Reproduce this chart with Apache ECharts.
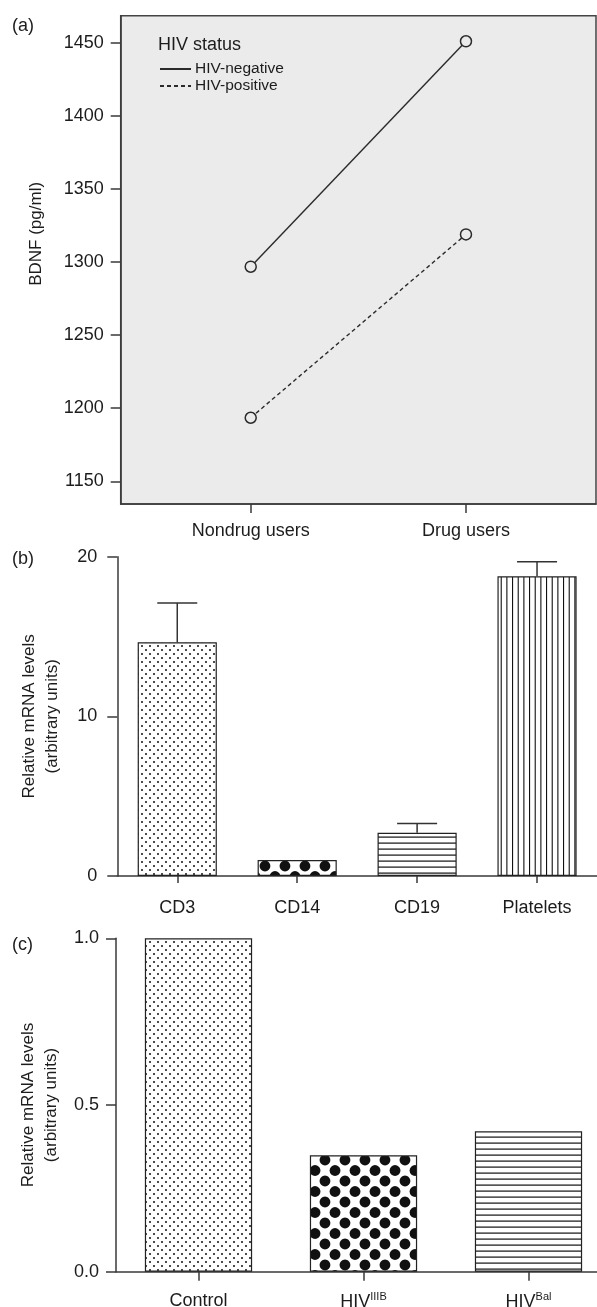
<!DOCTYPE html>
<html>
<head>
<meta charset="utf-8">
<script src="https://cdn.jsdelivr.net/npm/echarts@6/dist/echarts.min.js"></script>
<style>
html, body { margin: 0; padding: 0; background: #fff; }
#main { width: 597px; height: 1307px; }
</style>
</head>
<body>
<div id="main"></div>
<script>
// (a) BDNF by drug use and HIV status
var groupsA = ['Nondrug users', 'Drug users'];
var hivNegative = [1296.8, 1451];
var hivPositive = [1193.5, 1318.9];
var ticksA = [1150, 1200, 1250, 1300, 1350, 1400, 1450];

// (b) mRNA by cell type (mean + upper error)
var cellTypes = ['CD3', 'CD14', 'CD19', 'Platelets'];
var cellMeans = [14.64, 1.0, 2.71, 18.77];
var cellErrors = [2.46, 0, 0.58, 0.92];

// (c) mRNA after infection
var infections = ['Control', 'HIV^IIIB', 'HIV^Bal'];
var infectionMeans = [1.0, 0.349, 0.421];

var FONT = 'Liberation Sans, Arial, sans-serif';
var INK = '#1c1c1c';
var AXIS = '#3a3a3a';

// fill patterns drawn on small canvas tiles
function tile(w, h, draw) {
    var c = document.createElement('canvas');
    c.width = w;
    c.height = h;
    var ctx = c.getContext('2d');
    ctx.fillStyle = '#fff';
    ctx.fillRect(0, 0, w, h);
    ctx.fillStyle = '#111';
    draw(ctx);
    return { image: c, repeat: 'repeat' };
}
function dot(ctx, x, y, r) {
    ctx.beginPath();
    ctx.arc(x, y, r, 0, Math.PI * 2);
    ctx.fill();
}
var smallDots = tile(8, 8, function (ctx) {
    dot(ctx, 2, 2, 1);
    dot(ctx, 6, 6, 1);
});
var bigDots = tile(20, 21, function (ctx) {
    dot(ctx, 5, 5, 5.4);
    dot(ctx, 15, 15.5, 5.4);
    dot(ctx, 15, -5.5, 5.4);
    dot(ctx, 25, 5, 5.4);
    dot(ctx, -5, 15.5, 5.4);
    dot(ctx, 5, 26, 5.4);
});
var hLines = tile(4, 6, function (ctx) {
    ctx.fillRect(0, 2.5, 4, 1.2);
});
var vLines = tile(17, 4, function (ctx) {
    ctx.fillRect(2, 0, 1.1, 4);
    ctx.fillRect(7.67, 0, 1.1, 4);
    ctx.fillRect(13.33, 0, 1.1, 4);
});
var patternsB = [smallDots, bigDots, hLines, vLines];
var patternsC = [smallDots, bigDots, hLines];

var labelStyle = { color: INK, fontFamily: FONT, fontSize: 18 };
var axisLine = { show: true, onZero: false, lineStyle: { color: AXIS, width: 1.5 } };
var tickLine = { color: AXIS, width: 1.5 };

var chart = echarts.init(document.getElementById('main'));

chart.setOption({
    animation: false,
    textStyle: { fontFamily: FONT },
    grid: [
        { left: 120.7, right: 1, top: 15.7, height: 488.3, show: true, outerBoundsMode: 'none',
          backgroundColor: '#ebebeb', borderColor: '#444', borderWidth: 1.5 },
        { left: 117.3, right: 0, top: 556.7, height: 319.3, outerBoundsMode: 'none' },
        { left: 116, width: 495, top: 938.3, height: 333.4, outerBoundsMode: 'none' }
    ],
    legend: {
        data: ['HIV-negative', 'HIV-positive'],
        orient: 'vertical',
        left: 159,
        top: 61,
        padding: 0,
        itemWidth: 31,
        itemHeight: 14,
        itemGap: 1,
        itemStyle: { opacity: 0 },
        textStyle: { color: INK, fontFamily: FONT, fontSize: 15.5, lineHeight: 14, padding: [0, 0, 0, -1] }
    },
    graphic: [
        { type: 'text', left: 12, top: 17, style: { text: '(a)', fill: INK, font: '18px ' + FONT } },
        { type: 'text', left: 12, top: 550, style: { text: '(b)', fill: INK, font: '18px ' + FONT } },
        { type: 'text', left: 12, top: 936, style: { text: '(c)', fill: INK, font: '18px ' + FONT } },
        { type: 'text', left: 158, top: 36, style: { text: 'HIV status', fill: INK, font: '18px ' + FONT } }
    ],
    xAxis: [
        {
            gridIndex: 0, type: 'value', min: -0.604, max: 1.604,
            splitLine: { show: false },
            axisLine: axisLine,
            axisTick: { show: true, length: 9, customValues: [0, 1], lineStyle: tickLine },
            axisLabel: Object.assign({ margin: 18, customValues: [0, 1],
                formatter: function (v) { return groupsA[Math.round(v)]; } }, labelStyle)
        },
        {
            gridIndex: 1, type: 'category', data: cellTypes,
            axisLine: axisLine,
            axisTick: { show: true, alignWithLabel: true, length: 7, lineStyle: tickLine },
            axisLabel: Object.assign({ margin: 23 }, labelStyle)
        },
        {
            gridIndex: 2, type: 'category', data: infections,
            axisLine: axisLine,
            axisTick: { show: true, alignWithLabel: true, length: 9, lineStyle: tickLine },
            axisLabel: Object.assign({ margin: 20,
                formatter: function (v) { return v.replace(/\^(\w+)/, '{sup|$1}'); },
                rich: { sup: { fontFamily: FONT, fontSize: 11, color: INK, padding: [0, 0, 9, 0] } }
            }, labelStyle)
        }
    ],
    yAxis: [
        {
            gridIndex: 0, type: 'value', min: 1134.5, max: 1468.5,
            splitLine: { show: false },
            axisLine: axisLine,
            axisTick: { show: true, length: 10, customValues: ticksA, lineStyle: tickLine },
            axisLabel: Object.assign({ margin: 17, customValues: ticksA,
                formatter: function (v) { return String(v); } }, labelStyle),
            name: 'BDNF (pg/ml)', nameLocation: 'middle', nameGap: 76,
            nameTextStyle: { color: INK, fontFamily: FONT, fontSize: 17, padding: [0, 0, 0, 52] }
        },
        {
            gridIndex: 1, type: 'value', min: 0, max: 20, interval: 10,
            splitLine: { show: false },
            axisLine: axisLine,
            axisTick: { show: true, length: 10, lineStyle: tickLine },
            axisLabel: Object.assign({ margin: 20 }, labelStyle),
            name: 'Relative mRNA levels\n(arbitrary units)', nameLocation: 'middle', nameGap: 53,
            nameTextStyle: { color: INK, fontFamily: FONT, fontSize: 17, lineHeight: 23 }
        },
        {
            gridIndex: 2, type: 'value', min: 0, max: 1, interval: 0.5,
            splitLine: { show: false },
            axisLine: axisLine,
            axisTick: { show: true, length: 10, lineStyle: tickLine },
            axisLabel: Object.assign({ margin: 17, formatter: function (v) { return v.toFixed(1); } }, labelStyle),
            name: 'Relative mRNA levels\n(arbitrary units)', nameLocation: 'middle', nameGap: 52,
            nameTextStyle: { color: INK, fontFamily: FONT, fontSize: 17, lineHeight: 23 }
        }
    ],
    series: [
        {
            name: 'HIV-negative', type: 'line', xAxisIndex: 0, yAxisIndex: 0,
            data: hivNegative.map(function (v, i) { return [i, v]; }),
            symbol: 'circle', symbolSize: 11,
            lineStyle: { color: '#2a2a2a', width: 1.4, type: 'solid' },
            itemStyle: { color: '#ebebeb', borderColor: '#2a2a2a', borderWidth: 1.5 }
        },
        {
            name: 'HIV-positive', type: 'line', xAxisIndex: 0, yAxisIndex: 0,
            data: hivPositive.map(function (v, i) { return [i, v]; }),
            symbol: 'circle', symbolSize: 11,
            lineStyle: { color: '#2a2a2a', width: 1.4, type: [4, 3] },
            itemStyle: { color: '#ebebeb', borderColor: '#2a2a2a', borderWidth: 1.5 }
        },
        {
            type: 'bar', xAxisIndex: 1, yAxisIndex: 1, barWidth: '66%',
            data: cellMeans.map(function (v, i) {
                return { value: v, itemStyle: { color: patternsB[i] } };
            }),
            itemStyle: { borderColor: '#222', borderWidth: 1.2 }
        },
        {
            type: 'custom', xAxisIndex: 1, yAxisIndex: 1, z: 3,
            data: cellMeans.map(function (m, i) { return [i, m, m + cellErrors[i]]; }),
            renderItem: function (params, api) {
                if (api.value(2) <= api.value(1)) return;
                var base = api.coord([api.value(0), api.value(1)]);
                var top = api.coord([api.value(0), api.value(2)]);
                var st = { stroke: '#333', lineWidth: 1.5 };
                return {
                    type: 'group',
                    children: [
                        { type: 'line', shape: { x1: base[0], y1: base[1], x2: top[0], y2: top[1] }, style: st },
                        { type: 'line', shape: { x1: top[0] - 20, y1: top[1], x2: top[0] + 20, y2: top[1] }, style: st }
                    ]
                };
            }
        },
        {
            type: 'bar', xAxisIndex: 2, yAxisIndex: 2, barWidth: '65%',
            data: infectionMeans.map(function (v, i) {
                return { value: v, itemStyle: { color: patternsC[i] } };
            }),
            itemStyle: { borderColor: '#222', borderWidth: 1.2 }
        }
    ]
});

window.addEventListener('resize', function () {
    chart.resize();
});
</script>
</body>
</html>
